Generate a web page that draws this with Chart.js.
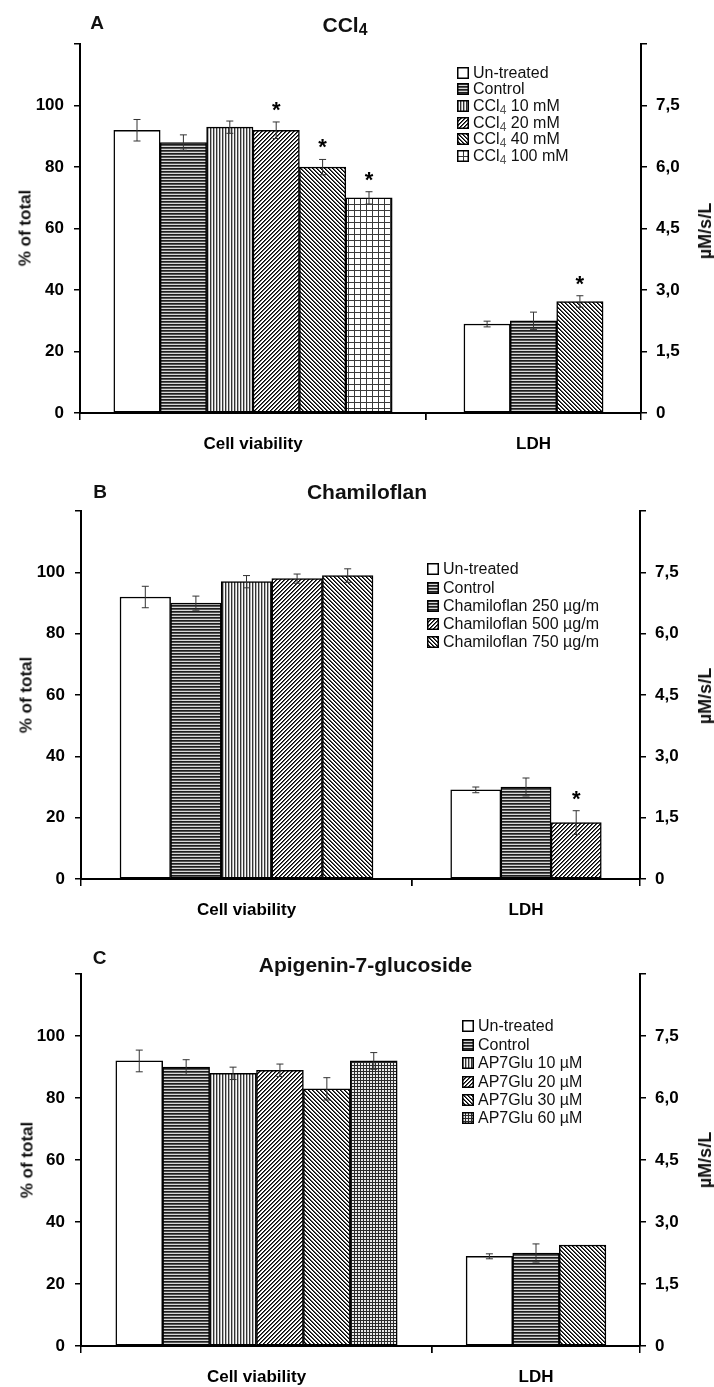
<!DOCTYPE html>
<html>
<head>
<meta charset="utf-8">
<script src="https://cdn.jsdelivr.net/npm/chart.js@4.4.1/dist/chart.umd.min.js"></script>
<style>
  html, body { margin: 0; padding: 0; background: #ffffff; }
  body { width: 714px; height: 1387px; position: relative; overflow: hidden;
         font-family: 'Liberation Sans', Arial, sans-serif; color: #111; }
  canvas { position: absolute; }
  .t { position: absolute; white-space: nowrap; line-height: 1; }
  .b { font-weight: bold; }
  .t sub { font-size: 75%; vertical-align: -0.25em; line-height: 0; }
  .lg sub { color: #555; }
</style>
</head>
<body>
<script>
// ================= DATA =================
const viabilityCategory = ['Cell viability'];
const ldhCategory = ['LDH'];
const leftTickLabels = ['0', '20', '40', '60', '80', '100', ''];
const rightTickLabels = ['0', '1,5', '3,0', '4,5', '6,0', '7,5', ''];
const leftAxisTitle = '% of total';
const rightAxisTitle = 'µM/s/L';

// Panel A – CCl4
const titleA = 'CCl4';
const seriesA = ['Un-treated', 'Control', 'CCl4 10 mM', 'CCl4 20 mM', 'CCl4 40 mM', 'CCl4 100 mM'];
const viabilityA = [92, 88, 93, 92, 80, 70];
const viabilityErrA = [3.5, 2.5, 2.0, 2.7, 2.5, 2.0];
const viabilitySigA = [false, false, false, true, true, true];
const ldhSeriesA = ['Un-treated', 'Control', 'CCl4 40 mM'];
const ldhA = [2.17, 2.25, 2.72];
const ldhErrA = [0.07, 0.21, 0.14];
const ldhSigA = [false, false, true];

// Panel B – Chamiloflan
const titleB = 'Chamiloflan';
const seriesB = ['Un-treated', 'Control', 'Chamiloflan 250 µg/m', 'Chamiloflan 500 µg/m', 'Chamiloflan 750 µg/m'];
const viabilityB = [92, 90, 97, 98, 99];
const viabilityErrB = [3.5, 2.3, 2.0, 1.5, 2.2];
const viabilitySigB = [false, false, false, false, false];
const ldhSeriesB = ['Un-treated', 'Control', 'Chamiloflan 500 µg/m'];
const ldhB = [2.18, 2.25, 1.38];
const ldhErrB = [0.07, 0.22, 0.29];
const ldhSigB = [false, false, true];

// Panel C – Apigenin-7-glucoside
const titleC = 'Apigenin-7-glucoside';
const seriesC = ['Un-treated', 'Control', 'AP7Glu 10 µM', 'AP7Glu 20 µM', 'AP7Glu 30 µM', 'AP7Glu 60 µM'];
const viabilityC = [92, 90, 88, 89, 83, 92];
const viabilityErrC = [3.5, 2.4, 2.0, 2.0, 3.6, 2.7];
const viabilitySigC = [false, false, false, false, false, false];
const ldhSeriesC = ['Un-treated', 'Control', 'AP7Glu 30 µM'];
const ldhC = [2.17, 2.25, 2.44];
const ldhErrC = [0.06, 0.22, null];
const ldhSigC = [false, false, false];

// ================= STYLES =================
const FONT = "'Liberation Sans', Arial, sans-serif";
const patternOf = {
  'Un-treated': 'white', 'Control': 'hlines',
  'CCl4 10 mM': 'vlines', 'CCl4 20 mM': 'fdiag', 'CCl4 40 mM': 'bdiag', 'CCl4 100 mM': 'grid',
  'Chamiloflan 250 µg/m': 'vlines', 'Chamiloflan 500 µg/m': 'fdiag', 'Chamiloflan 750 µg/m': 'bdiag',
  'AP7Glu 10 µM': 'vlines', 'AP7Glu 20 µM': 'fdiag', 'AP7Glu 30 µM': 'bdiag', 'AP7Glu 60 µM': 'finegrid'
};
// legend swatches as they appear in the figure
const legendPatternOverride = { 'Chamiloflan 250 µg/m': 'hlines' };

function makePattern(kind) {
  if (kind === 'white') return '#ffffff';
  const c = document.createElement('canvas');
  const g = c.getContext('2d');
  const px = (x, y, col) => { g.fillStyle = col; g.fillRect(x, y, 1, 1); };
  if (kind === 'hlines') {
    c.width = 3; c.height = 3;
    g.fillStyle = '#d8d8d8'; g.fillRect(0, 0, 3, 3);
    g.fillStyle = '#1e1e1e'; g.fillRect(0, 0, 3, 1);
    g.fillStyle = '#555'; g.fillRect(0, 1, 3, 1);
  } else if (kind === 'vlines') {
    c.width = 3; c.height = 3;
    g.fillStyle = '#fafafa'; g.fillRect(0, 0, 3, 3);
    g.fillStyle = '#333'; g.fillRect(0, 0, 1, 3);
    g.fillStyle = '#b0b0b0'; g.fillRect(1, 0, 1, 3);
  } else if (kind === 'fdiag' || kind === 'bdiag') {
    c.width = 4; c.height = 4;
    g.fillStyle = '#ffffff'; g.fillRect(0, 0, 4, 4);
    for (let y = 0; y < 4; y++) for (let x = 0; x < 4; x++) {
      const k = kind === 'fdiag' ? (x + y) % 4 : (x - y + 4) % 4;
      if (k === 0) px(x, y, '#000');
      else if (k === 1) px(x, y, '#555');
    }
  } else if (kind === 'grid') {
    c.width = 6; c.height = 6;
    g.fillStyle = '#ffffff'; g.fillRect(0, 0, 6, 6);
    g.fillStyle = '#3a3a3a'; g.fillRect(0, 0, 6, 1); g.fillRect(0, 0, 1, 6);
  } else if (kind === 'finegrid') {
    c.width = 3; c.height = 3;
    g.fillStyle = '#e8e8e8'; g.fillRect(0, 0, 3, 3);
    g.fillStyle = '#2a2a2a'; g.fillRect(0, 0, 3, 1); g.fillRect(0, 0, 1, 3);
  }
  return g.createPattern(c, 'repeat');
}

// ================= LAYOUT (pixels) =================
const panels = [
  { title: titleA, letter: 'A', series: seriesA, viab: viabilityA, viabErr: viabilityErrA, viabSig: viabilitySigA,
    ldhSeries: ldhSeriesA, ldh: ldhA, ldhErr: ldhErrA, ldhSig: ldhSigA,
    yTop: 44, yZero: 413, xLeft: 80, xDiv: 426, xRight: 641, barW: 46.4, ldhBarW: 46.4,
    letterXY: [97, 22], titleXY: [345, 24], legend: [457, 473, 72.5, 16.7], leftTitleXY: [25, 228], rightTitleXY: [705, 231] },
  { title: titleB, letter: 'B', series: seriesB, viab: viabilityB, viabErr: viabilityErrB, viabSig: viabilitySigB,
    ldhSeries: ldhSeriesB, ldh: ldhB, ldhErr: ldhErrB, ldhSig: ldhSigB,
    yTop: 511, yZero: 879, xLeft: 81, xDiv: 412, xRight: 640, barW: 50.6, ldhBarW: 50.2,
    letterXY: [100, 490.5], titleXY: [367, 491], legend: [427, 443, 569.2, 18.3], leftTitleXY: [26, 695], rightTitleXY: [705, 696] },
  { title: titleC, letter: 'C', series: seriesC, viab: viabilityC, viabErr: viabilityErrC, viabSig: viabilitySigC,
    ldhSeries: ldhSeriesC, ldh: ldhC, ldhErr: ldhErrC, ldhSig: ldhSigC,
    yTop: 974, yZero: 1346, xLeft: 81, xDiv: 432, xRight: 640, barW: 46.9, ldhBarW: 46.6,
    letterXY: [99.5, 957], titleXY: [365.5, 964], legend: [462, 478, 1026.3, 18.4], leftTitleXY: [27, 1160], rightTitleXY: [705, 1160] }
];

// ================= HELPERS =================
function withSub(s) { return s.replace(/CCl4/g, 'CCl<sub>4</sub>'); }

function addText(html, x, y, size, cls, rotate) {
  const d = document.createElement('div');
  d.className = 't ' + (cls || '');
  d.style.fontSize = size + 'px';
  d.innerHTML = html;
  d.style.left = x + 'px';
  d.style.top = y + 'px';
  d.style.transform = rotate ? 'translate(-50%, -50%) rotate(-90deg)' : 'translate(-50%, -50%)';
  document.body.appendChild(d);
  return d;
}

function mkCanvas(left, top, w, h) {
  const c = document.createElement('canvas');
  c.width = w; c.height = h;
  c.style.left = left + 'px'; c.style.top = top + 'px';
  c.style.width = w + 'px'; c.style.height = h + 'px';
  document.body.appendChild(c);
  return c;
}

const errorBarPlugin = {
  id: 'errorBars',
  afterDatasetsDraw(chart) {
    const ctx = chart.ctx;
    chart.data.datasets.forEach((ds, i) => {
      const meta = chart.getDatasetMeta(i);
      const ys = meta.vScale;
      meta.data.forEach((bar, j) => {
        const v = ds.data[j];
        const err = ds.errors ? ds.errors[j] : null;
        let top = bar.y;
        const x = bar.x;
        if (err !== null && err !== undefined) {
          const yHi = ys.getPixelForValue(v + err);
          const yLo = ys.getPixelForValue(v - err);
          ctx.save();
          ctx.strokeStyle = '#333';
          ctx.lineWidth = 1;
          ctx.beginPath();
          ctx.moveTo(x, yHi); ctx.lineTo(x, yLo);
          ctx.moveTo(x - 3.5, yHi); ctx.lineTo(x + 3.5, yHi);
          ctx.moveTo(x - 3.5, yLo); ctx.lineTo(x + 3.5, yLo);
          ctx.stroke();
          ctx.restore();
          top = yHi;
        }
        if (ds.sig && ds.sig[j]) {
          ctx.save();
          ctx.fillStyle = '#000';
          ctx.font = 'bold 22px ' + FONT;
          ctx.textAlign = 'center';
          ctx.textBaseline = 'alphabetic';
          ctx.fillText('*', x, top - 5);
          ctx.restore();
        }
      });
    });
  }
};

function commonX(labels) {
  return {
    type: 'category', offset: true,
    grid: { offset: true, drawOnChartArea: false, drawTicks: true, tickLength: 7, color: '#000', lineWidth: 1.5 },
    border: { display: true, color: '#000', width: 2 },
    ticks: { color: '#000', font: { family: FONT, size: 17, weight: 'bold' }, padding: 14 },
    afterFit: s => { s.height = 50; }
  };
}

function buildPanel(p) {
  const cTop = p.yTop - 20;
  const H = p.yZero + 50 - cTop;

  // ---- Cell viability chart (left axis, % of total)
  const lc = mkCanvas(0, cTop, p.xDiv + 4, H);
  new Chart(lc, {
    type: 'bar',
    data: {
      labels: viabilityCategory,
      datasets: p.series.map((name, i) => ({
        label: name, data: [p.viab[i]], errors: [p.viabErr[i]], sig: [p.viabSig[i]],
        backgroundColor: makePattern(patternOf[name]), borderColor: '#000', borderWidth: 1.5,
        borderSkipped: false, barThickness: p.barW
      }))
    },
    options: {
      responsive: false, animation: false, devicePixelRatio: 1,
      layout: { padding: { top: 20, right: 4, left: 0, bottom: 0 } },
      plugins: { legend: { display: false }, tooltip: { enabled: false }, title: { display: false } },
      scales: {
        x: commonX(viabilityCategory),
        y: {
          position: 'left', min: 0, max: 120,
          ticks: { stepSize: 20, callback: (v, i) => leftTickLabels[i], color: '#000',
                   font: { family: FONT, size: 17, weight: 'bold' }, padding: 10 },
          grid: { drawOnChartArea: false, drawTicks: true, tickLength: 6, color: '#000', lineWidth: 1.5 },
          border: { display: true, color: '#000', width: 2 },
          afterFit: s => { s.width = p.xLeft; }
        }
      }
    },
    plugins: [errorBarPlugin]
  });

  // ---- LDH chart (right axis, µM/s/L)
  const rLeft = p.xDiv - 4;
  const rc = mkCanvas(rLeft, cTop, 714 - rLeft, H);
  new Chart(rc, {
    type: 'bar',
    data: {
      labels: ldhCategory,
      datasets: p.ldhSeries.map((name, i) => ({
        label: name, data: [p.ldh[i]], errors: [p.ldhErr[i]], sig: [p.ldhSig[i]],
        backgroundColor: makePattern(patternOf[name]), borderColor: '#000', borderWidth: 1.5,
        borderSkipped: false, barThickness: p.ldhBarW, yAxisID: 'y'
      }))
    },
    options: {
      responsive: false, animation: false, devicePixelRatio: 1,
      layout: { padding: { top: 20, right: 0, left: 4, bottom: 0 } },
      plugins: { legend: { display: false }, tooltip: { enabled: false }, title: { display: false } },
      scales: {
        x: commonX(ldhCategory),
        y: {
          position: 'right', min: 0, max: 9,
          ticks: { stepSize: 1.5, callback: (v, i) => rightTickLabels[i], color: '#000',
                   font: { family: FONT, size: 17, weight: 'bold' }, padding: 9 },
          grid: { drawOnChartArea: false, drawTicks: true, tickLength: 6, color: '#000', lineWidth: 1.5 },
          border: { display: true, color: '#000', width: 2 },
          afterFit: s => { s.width = 714 - p.xRight; }
        }
      }
    },
    plugins: [errorBarPlugin]
  });

  // ---- texts
  addText(p.letter, p.letterXY[0], p.letterXY[1], 19, 'b');
  addText(withSub(p.title), p.titleXY[0], p.titleXY[1], 21, 'b');
  addText(leftAxisTitle, p.leftTitleXY[0], p.leftTitleXY[1], 17, 'b', true);
  addText(rightAxisTitle, p.rightTitleXY[0], p.rightTitleXY[1], 18, 'b', true);

  // ---- legend
  const [sx, tx, y0, gap] = p.legend;
  p.series.forEach((name, i) => {
    const cy = y0 + i * gap;
    const sw = mkCanvas(sx, Math.round(cy - 6), 12, 12);
    const g = sw.getContext('2d');
    g.fillStyle = makePattern(legendPatternOverride[name] || patternOf[name]);
    g.fillRect(0, 0, 12, 12);
    g.strokeStyle = '#000'; g.lineWidth = 1.5;
    g.strokeRect(0.75, 0.75, 10.5, 10.5);
    const d = document.createElement('div');
    d.className = 't lg';
    d.style.fontSize = '16px';
    d.style.left = tx + 'px';
    d.style.top = (cy - 8) + 'px';
    d.innerHTML = withSub(name);
    document.body.appendChild(d);
  });
}

panels.forEach(buildPanel);
</script>
</body>
</html>
